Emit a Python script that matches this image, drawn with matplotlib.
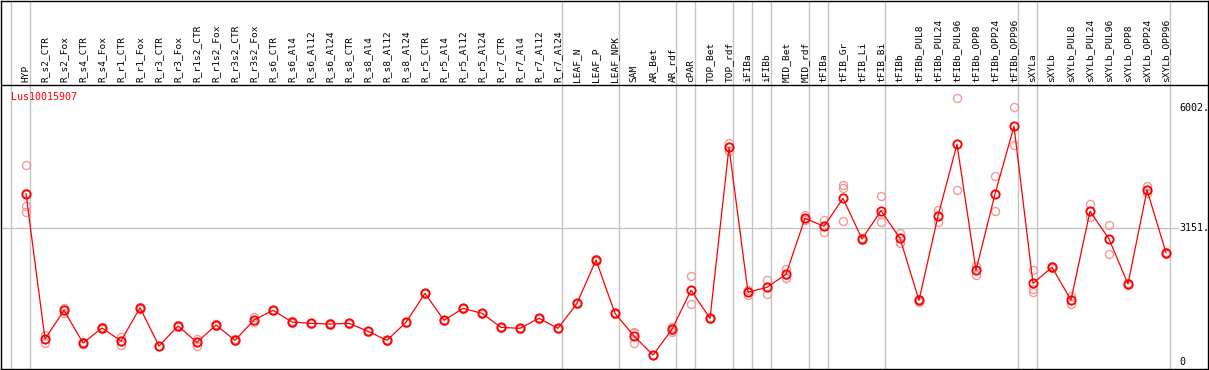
import matplotlib
matplotlib.use("Agg")
import matplotlib.pyplot as plt

categories = ["HYP", "R_s2_CTR", "R_s2_Fox", "R_s4_CTR", "R_s4_Fox", "R_r1_CTR", "R_r1_Fox",
              "R_r3_CTR", "R_r3_Fox", "R_r1s2_CTR", "R_r1s2_Fox", "R_r3s2_CTR", "R_r3s2_Fox",
              "R_s6_CTR", "R_s6_Al4", "R_s6_Al12", "R_s6_Al24", "R_s8_CTR", "R_s8_Al4",
              "R_s8_Al12", "R_s8_Al24", "R_r5_CTR", "R_r5_Al4", "R_r5_Al12", "R_r5_Al24",
              "R_r7_CTR", "R_r7_Al4", "R_r7_Al12", "R_r7_Al24", "LEAF_N", "LEAF_P", "LEAF_NPK",
              "SAM", "AR_Bet", "AR_rdf", "cPAR", "TOP_Bet", "TOP_rdf", "iFIBa", "iFIBb",
              "MID_Bet", "MID_rdf", "tFIBa", "tFIB_Gr", "tFIB_Li", "tFIB_Bi", "tFIBb",
              "tFIBb_PUL8", "tFIBb_PUL24", "tFIBb_PUL96", "tFIBb_OPP8", "tFIBb_OPP24",
              "tFIBb_OPP96", "sXYLa", "sXYLb", "sXYLb_PUL8", "sXYLb_PUL24", "sXYLb_PUL96",
              "sXYLb_OPP8", "sXYLb_OPP24", "sXYLb_OPP96"]

means = [3968, 536, 1214, 441, 795, 489, 1276, 370, 843, 457, 867, 504, 985,
         1214, 937, 906, 890, 906, 718, 504, 930, 1615, 977, 1260, 1142,
         811, 788, 1024, 788, 1379, 2402, 1142,
         607, 158, 764, 1686, 1024, 5064, 1638, 1757,
         2064, 3386, 3197, 3859, 2898, 3567, 2914,
         1450, 3441, 5134, 2158, 3961, 5559,
         1851, 2229, 1457, 3552, 2898, 1835, 4055, 2575]

replicates = [
    [4646, 3990, 3685, 3536], [630, 540, 434], [1280, 1214, 1160], [460, 441, 420],
    [830, 795, 770], [590, 489, 400], [1300, 1276, 1250], [380, 370, 360],
    [860, 843, 825], [540, 457, 380], [890, 867, 845], [530, 504, 480],
    [1060, 985, 930], [1230, 1214, 1200], [950, 937, 925], [920, 906, 895],
    [905, 890, 878], [918, 906, 895], [730, 718, 705], [518, 504, 492],
    [945, 930, 918], [1630, 1615, 1600], [990, 977, 965], [1275, 1260, 1248],
    [1155, 1142, 1130], [825, 811, 800], [800, 788, 776], [1038, 1024, 1012],
    [800, 788, 776], [1392, 1379, 1366], [2415, 2402, 2390], [1155, 1142, 1130],
    [709, 678, 434], [170, 158, 150], [827, 756, 709], [2024, 1686, 1355],
    [1040, 1024, 1010], [5158, 5064, 4976], [1700, 1638, 1580], [1930, 1757, 1591],
    [2182, 2040, 1970], [3460, 3386, 3340], [3346, 3197, 3071], [4173, 4094, 3323],
    [2930, 2898, 2870], [3906, 3500, 3299], [3047, 2914, 2811],
    [1480, 1450, 1420], [3575, 3441, 3310], [6221, 5134, 4048], [2260, 2158, 2048],
    [4386, 3961, 3552], [6008, 5559, 5110],
    [2158, 1717, 1654], [2250, 2229, 2210], [1559, 1457, 1355], [3725, 3552, 3425],
    [3229, 2898, 2544], [1860, 1835, 1810], [4157, 4055, 3977], [2600, 2575, 2550],
]

# group boundaries: gridline drawn after these category indices
group_ends = [-1, 0, 28, 31, 34, 35, 37, 38, 39, 41, 42, 45, 52, 53, 60]

ytick_vals = [0, 3151, 6002]
ytick_labels = ["0", "3151.", "6002."]
gene = "Lus10015907"

W, H = 1209, 370
fig = plt.figure(figsize=(W / 100, H / 100), dpi=100)
# axes covers px x 0.5..1207.5, y(top) 0.5..369
ax = fig.add_axes([0.5 / W, (H - 369) / H, 1207 / W, 368.5 / H])

# pixel -> data mapping
x0px, dxpx = 26.0, 19.0
ax.set_xlim((0.5 - x0px) / dxpx, (1207.5 - x0px) / dxpx)
y0px, scale = 361.7, 0.04234
ax.set_ylim((y0px - 369) / scale, (y0px - 0.5) / scale)

for s in ax.spines.values():
    s.set_color("black")
    s.set_linewidth(1.0)
ax.set_xticks([])
ax.set_yticks([])

grid_c = "#c4c4c4"
for g in group_ends:
    ax.axvline(g + 0.2, color=grid_c, lw=1.0, zorder=1)
ax.axhline(ytick_vals[1], xmin=0, xmax=1177 / 1207, color=grid_c, lw=1.0, zorder=1)
# header separator
ax.axhline((y0px - 85) / scale, color="black", lw=1.0, zorder=2)

xs = list(range(len(categories)))
for i, reps in enumerate(replicates):
    ax.plot([i] * len(reps), reps, linestyle="none", marker="o", ms=5.8,
            mfc="none", mec="#f09a9a", mew=1.0, zorder=3)
ax.plot(xs, means, color="red", lw=0.9, zorder=4)
ax.plot(xs, means, linestyle="none", marker="o", ms=6.0, mfc="none",
        mec="red", mew=1.3, zorder=5)

mono = "DejaVu Sans Mono"
hdr_y = (369 - 82) / 368.5
for i, c in enumerate(categories):
    ax.text(i, hdr_y, c, transform=ax.get_xaxis_transform(), rotation=90,
            ha="center", va="bottom", fontsize=6.8, family=mono, color="black")

ax.text(10 / 1207, (369 - 97) / 368.5, gene, transform=ax.transAxes, color="red",
        fontsize=7.2, family=mono, ha="left", va="center")

for v, lab in zip(ytick_vals, ytick_labels):
    ax.text(1179 / 1207, v, lab, transform=ax.get_yaxis_transform(), ha="left",
            va="center", fontsize=7.2, family=mono, color="black")

fig.savefig("out.png", dpi=100)
